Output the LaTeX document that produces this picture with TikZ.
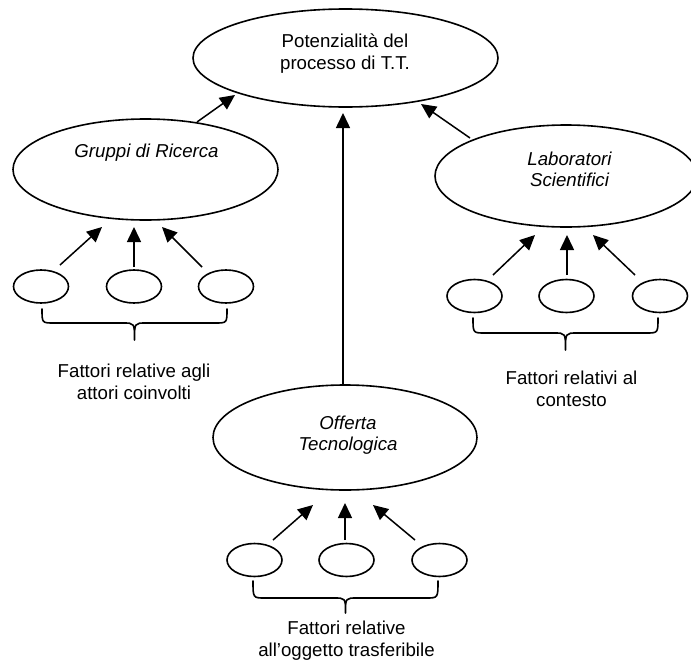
\documentclass[tikz,border=0pt]{standalone}
\usepackage{fontspec}
\setmainfont{Liberation Sans}
\usetikzlibrary{arrows.meta,calc,shapes.geometric}
\begin{document}
\begin{tikzpicture}[x=1pt,y=-1pt,
  big/.style={draw, ellipse, line width=1.6pt, inner sep=0pt},
  small/.style={draw, ellipse, line width=1.6pt, inner sep=0pt,
                minimum width=55pt, minimum height=33pt},
  txt/.style={align=center, inner sep=0pt, font=\fontsize{18.67}{22}\selectfont},
  itxt/.style={align=center, inner sep=0pt, font=\fontsize{18.67}{21}\selectfont\itshape},
  arr/.style={-{Triangle[length=15pt,width=14pt]}, line width=1.5pt},
  brace/.style={line width=1.6pt, line join=round, line cap=round}
]
\clip (0,0) rectangle (691,664);
\fill[white] (0,0) rectangle (691,664);

% main ellipses
\node[big, minimum width=305pt, minimum height=98pt]  (top) at (345.5,58)   {};
\node[big, minimum width=265pt, minimum height=101pt] (grp) at (145.5,169.5) {};
\node[big, minimum width=262pt, minimum height=102pt] (lab) at (566,176)    {};
\node[big, minimum width=264pt, minimum height=105pt] (off) at (345,437.5)  {};

% labels inside the main ellipses
\node[txt]  (ttop) at (345,54)    {Potenzialità del\\processo di T.T.};
\node[itxt] (tgrp) at (146.5,153) {Gruppi di Ricerca};
\node[itxt] (tlab) at (569.5,169) {Laboratori\\Scientifici};
\node[itxt] (toff) at (348,435)   {Offerta\\Tecnologica};

% factor ellipses
\node[small] (g1) at (41,286.5)  {};
\node[small] (g2) at (134,286.5) {};
\node[small] (g3) at (226,286.5) {};
\node[small] (r1) at (474.5,296) {};
\node[small] (r2) at (566.5,296) {};
\node[small] (r3) at (660,296)   {};
\node[small] (b1) at (254.5,560) {};
\node[small] (b2) at (346.5,560) {};
\node[small] (b3) at (439.5,560) {};

% group captions
\node[txt] (fg) at (134,382)   {Fattori relative agli\\attori coinvolti};
\node[txt] (fl) at (571.5,389) {Fattori relativi al\\contesto};
\node[txt] (fo) at (346.5,641) {Fattori relative\\all’oggetto trasferibile};

% arrows towards the central ellipse
\draw[arr] ($(grp)+(51.5,-47.5)$) -- ($(top)+(-110.5,37)$);
\draw[arr] ($(lab)+(-96,-38)$)    -- ($(top)+(75.5,46)$);
\draw[arr] ($(off)+(-2,-52.5)$)   -- ($(top)+(-2.5,55)$);

% factor arrows
\draw[arr] ($(g1)+(19,-21.5)$)  -- ($(grp)+(-43.5,57.5)$);
\draw[arr] ($(g2)+(0,-19.5)$)   -- ($(grp)+(-11.5,57.5)$);
\draw[arr] ($(g3)+(-24,-19.5)$) -- ($(grp)+(16.5,57.5)$);

\draw[arr] ($(r1)+(18.5,-21)$)  -- ($(lab)+(-31,59)$);
\draw[arr] ($(r2)+(0.5,-21)$)   -- ($(lab)+(1,59)$);
\draw[arr] ($(r3)+(-25,-21)$)   -- ($(lab)+(27,59)$);

\draw[arr] ($(b1)+(18.5,-20)$)  -- ($(off)+(-32,67.5)$);
\draw[arr] ($(b2)+(-1.5,-20)$)  -- ($(off)+(0,65.5)$);
\draw[arr] ($(b3)+(-24.5,-20)$) -- ($(off)+(28,67.5)$);

% curly braces under each row of factors
\draw[brace] (42,309) .. controls (42,323) .. (54,323) -- (123,323)
  .. controls (134.5,323) .. (134.5,340) .. controls (134.5,323) .. (146,323)
  -- (215,323) .. controls (227,323) .. (227,309);
\draw[brace] (473,318) .. controls (473,333) .. (485,333) -- (554,333)
  .. controls (565.5,333) .. (565.5,350) .. controls (565.5,333) .. (577,333)
  -- (646,333) .. controls (658,333) .. (658,318);
\draw[brace] (253,581) .. controls (253,598) .. (265,598) -- (334,598)
  .. controls (345.5,598) .. (345.5,613) .. controls (345.5,598) .. (357,598)
  -- (426,598) .. controls (438,598) .. (438,581);
\end{tikzpicture}
\end{document}
